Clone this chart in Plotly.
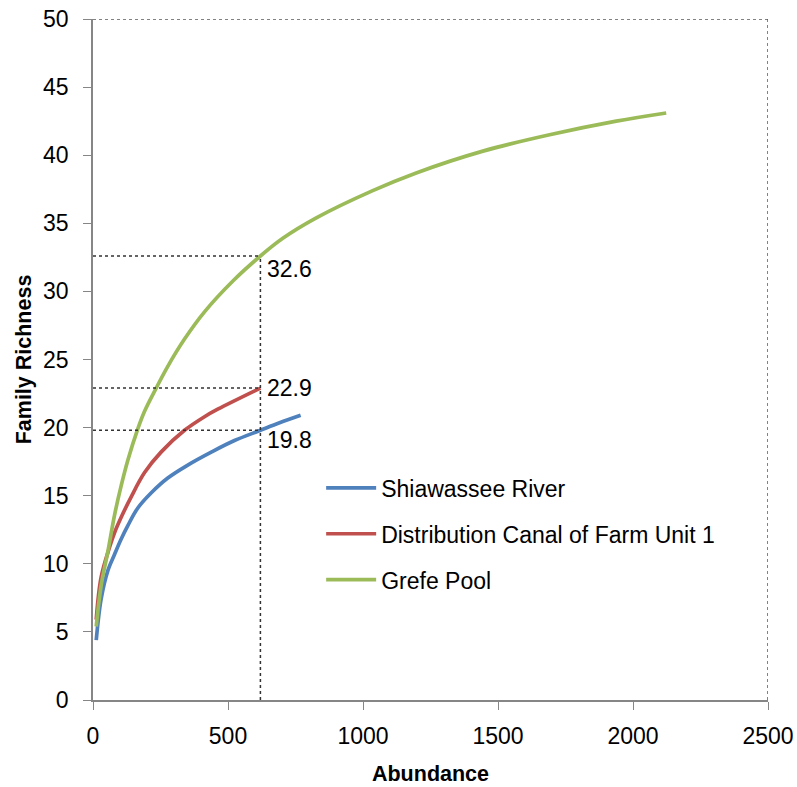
import plotly.graph_objects as go

# ---- data ----
blue_x = [12, 30, 55, 80, 104, 129, 166, 215, 277, 351, 438, 524, 620, 691, 769]
blue_y = [4.4, 7.4, 9.5, 10.7, 11.8, 12.8, 14.1, 15.2, 16.3, 17.25, 18.2, 19.05, 19.8, 20.35, 20.9]

red_x = [12, 30, 61, 80, 104, 141, 191, 252, 339, 413, 462, 620]
red_y = [5.9, 9.0, 11.2, 12.3, 13.4, 14.9, 16.7, 18.2, 19.8, 20.8, 21.35, 22.9]

green_x = [12, 30, 55, 80, 104, 129, 164, 191, 234, 277, 339, 413, 520, 620, 703, 827,
           1036, 1197, 1444, 1691, 1938, 2123]
green_y = [5.4, 8.4, 10.9, 13.6, 15.7, 17.6, 19.8, 21.2, 22.9, 24.5, 26.5, 28.5, 30.8, 32.6,
           33.9, 35.4, 37.4, 38.7, 40.3, 41.5, 42.5, 43.1]

series_names = ["Shiawassee River", "Distribution Canal of Farm Unit 1", "Grefe Pool"]
series_colors = ["#4F81BD", "#C0504D", "#9BBB59"]

ref_x = 620
ref_values = [32.6, 22.9, 19.8]
ref_labels = ["32.6", "22.9", "19.8"]
ref_label_shift = [-13, 0, -10]

x_range = [0, 2500]
y_range = [0, 50]
x_ticks = [0, 500, 1000, 1500, 2000, 2500]
y_ticks = [0, 5, 10, 15, 20, 25, 30, 35, 40, 45, 50]

FONT = "Liberation Sans, Arial, sans-serif"

fig = go.Figure()
for i, (xs, ys) in enumerate([(blue_x, blue_y), (red_x, red_y), (green_x, green_y)]):
    fig.add_trace(go.Scatter(
        x=xs, y=ys, mode="lines", name=series_names[i],
        legendgroup=f"g{i}",
        line=dict(color=series_colors[i], width=3.7, shape="spline", smoothing=1.0),
    ))

# reference dotted lines
fig.add_shape(type="line", x0=ref_x, x1=ref_x, y0=0, y1=max(ref_values),
              xref="x", yref="y", line=dict(color="#333333", width=1.5, dash="dot"))
for v in ref_values:
    fig.add_shape(type="line", x0=0, x1=ref_x, y0=v, y1=v,
                  xref="x", yref="y", line=dict(color="#333333", width=1.5, dash="dot"))
for v, lab, sh in zip(ref_values, ref_labels, ref_label_shift):
    fig.add_annotation(x=ref_x, y=v, text=lab, showarrow=False, xanchor="left",
                       xshift=5, yshift=sh, font=dict(family=FONT, size=23, color="#000000"))

# dotted frame top and right
fig.add_shape(type="line", x0=x_range[0], x1=x_range[1], y0=y_range[1], y1=y_range[1],
              xref="x", yref="y", line=dict(color="#595959", width=1.5, dash="dot"))
fig.add_shape(type="line", x0=x_range[1], x1=x_range[1], y0=y_range[0], y1=y_range[1],
              xref="x", yref="y", line=dict(color="#595959", width=1.5, dash="dot"))

fig.update_layout(
    width=797, height=787,
    margin=dict(l=93, r=29, t=19, b=87),
    paper_bgcolor="white", plot_bgcolor="white",
    font=dict(family=FONT, size=23, color="#000000"),
    showlegend=True,
    legend=dict(x=0.338, y=0.343, xanchor="left", yanchor="top",
                bgcolor="rgba(0,0,0,0)", font=dict(family=FONT, size=23, color="#000000"),
                tracegroupgap=13, itemwidth=50),
)
fig.update_xaxes(
    range=x_range, tickvals=x_ticks, ticks="outside", ticklen=8, tickcolor="#868686",
    showline=True, linecolor="#868686", linewidth=1.5, showgrid=False, zeroline=False,
    automargin=False,
    ticklabelstandoff=7, tickfont=dict(family=FONT, size=23),
    title=dict(text="<b>Abundance</b>", font=dict(family=FONT, size=21.5), standoff=18),
)
fig.update_yaxes(
    range=y_range, tickvals=y_ticks, ticks="outside", ticklen=8, tickcolor="#868686",
    showline=True, linecolor="#868686", linewidth=1.5, showgrid=False, zeroline=False,
    automargin=False,
    ticklabelstandoff=10, tickfont=dict(family=FONT, size=23),
    title=dict(text="<b>Family Richness</b>", font=dict(family=FONT, size=21.5), standoff=6),
)

fig.write_html("out.html", config={"displayModeBar": False},
               post_script="document.body.style.margin='0px';")
